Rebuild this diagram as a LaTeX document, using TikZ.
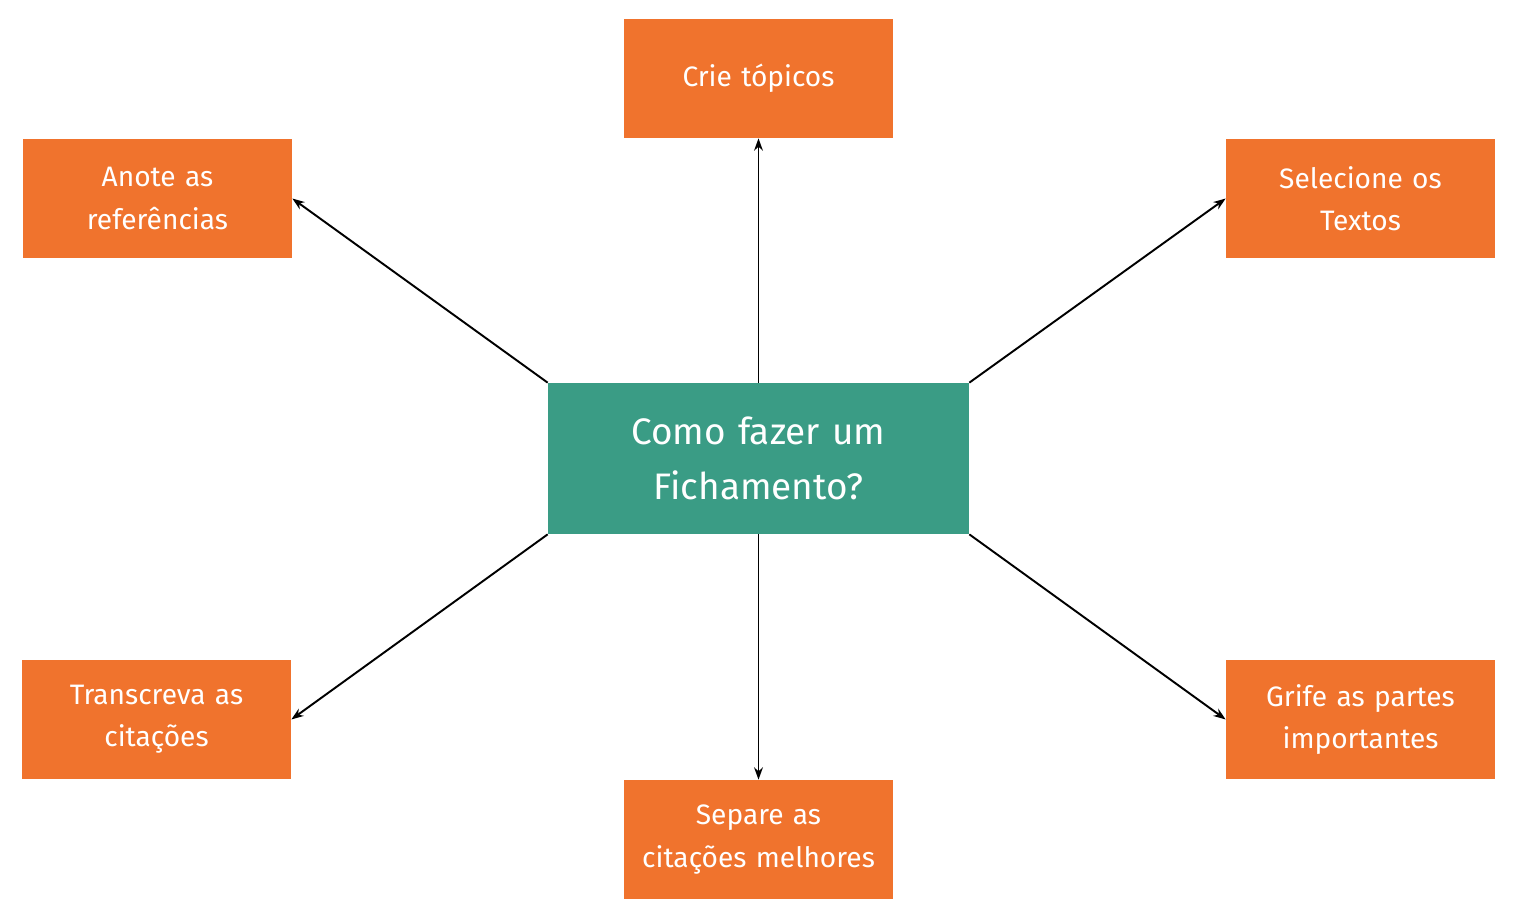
\documentclass[tikz,border=0pt]{standalone}
\usepackage{fontspec}
\setmainfont{Fira Sans}
\usetikzlibrary{arrows.meta}
\definecolor{laranja}{HTML}{F0732D}
\definecolor{verde}{HTML}{3A9C85}
\begin{document}
\begin{tikzpicture}[x=0.02cm,y=-0.02cm,
  passo/.style={shape=rectangle,fill=laranja,text=white,minimum width=5.38cm,minimum height=2.38cm,inner sep=0pt,text width=5.2cm,align=center,font=\fontsize{16}{24}\selectfont},
  tema/.style={shape=rectangle,fill=verde,text=white,minimum width=8.42cm,minimum height=3.02cm,inner sep=0pt,text width=8cm,align=center,font=\fontsize{21}{31}\selectfont},
  seta/.style={-{Stealth[length=7pt,width=5pt]},line width=1.1pt}]
\useasboundingbox (0,0) rectangle (1521,916);

\node[tema] (C) at (758.5,458.5) {Como fazer um\\Fichamento?};

\node[passo] (T) at (758.5,78.5) {Crie tópicos};
\node[passo] (A) at (157.5,198.5) {Anote as\\referências};
\node[passo] (S) at (1360.5,198.5) {Selecione os\\Textos};
\node[passo] (R) at (156.5,719.5) {Transcreva as\\citações};
\node[passo] (G) at (1360.5,719.5) {Grife as partes\\importantes};
\node[passo] (P) at (758.5,839.5) {Separe as\\citações melhores};

\draw[seta] (C.north) -- (T.south);
\draw[seta] (C.north west) -- (A.east);
\draw[seta] (C.north east) -- (S.west);
\draw[seta] (C.south west) -- (R.east);
\draw[seta] (C.south east) -- (G.west);
\draw[seta] (C.south) -- (P.north);
\end{tikzpicture}
\end{document}
